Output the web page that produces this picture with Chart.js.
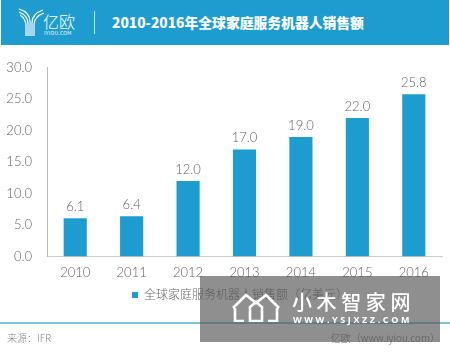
<!DOCTYPE html>
<html>
<head>
<meta charset="utf-8">
<script src="https://cdn.jsdelivr.net/npm/chart.js@4"></script>
<style>
  html, body { margin: 0; padding: 0; background: #fff; }
  body { width: 450px; height: 352px; position: relative; overflow: hidden; font-family: "Noto Sans CJK SC", sans-serif; }
  #wrap { position: absolute; left: 0; top: 45px; width: 450px; height: 266px; }
  .abs { position: absolute; white-space: nowrap; }
  #head { left: 1px; top: 0; width: 448px; height: 45px; background: #1e9ccf; }
  #title { left: 112px; top: 12px; font-size: 13.8px; line-height: 20px; font-weight: 900; color: #fff; }
  #rule { left: 94px; top: 11px; width: 1px; height: 23px; background: rgba(255,255,255,.7); }
  #brand { left: 43px; top: 12px; font-size: 16px; line-height: 18px; font-weight: 300; color: #fff; }
  #brand2 { left: 44px; top: 30px; font-size: 5px; line-height: 6px; color: #fff; letter-spacing: .3px; }
  #line { left: 0; top: 322px; width: 450px; height: 2px; background: #7cc5d9; }
  #src { left: 7px; top: 331px; font-size: 10px; line-height: 14px; font-weight: 300; color: #888; }
  #site { right: 10px; top: 331px; font-size: 10px; line-height: 14px; font-weight: 300; color: #666; }
  #mark { left: 200px; top: 276px; width: 240px; height: 66px; background: rgba(85,85,85,.66); }
  #mname { left: 292px; top: 289px; font-size: 20px; line-height: 26px; font-weight: 500; color: #fff; letter-spacing: 4.6px; }
  #murl { left: 293px; top: 314px; font-size: 9px; line-height: 12px; font-weight: 700; color: #fff; letter-spacing: 2.6px; font-family: "Open Sans", sans-serif; }
</style>
</head>
<body>
<div id="wrap"><canvas id="chart"></canvas></div>

<div class="abs" id="head"></div>
<svg class="abs" style="left:17px;top:7px" width="30" height="30" viewBox="0 0 30 30" fill="none" stroke="#fff" stroke-width="1.2">
  <path d="M2 2 C9 4 13 8 13 15 V29"/>
  <path d="M2 5 C7 7 11 10 11 17 V29"/>
  <path d="M3 8 C6 10 9 13 9 19 V29"/>
  <path d="M26 3 C20 5 15 9 15 16 V29"/>
  <path d="M27 6 C21 8 17 11 17 18 V29"/>
</svg>
<div class="abs" id="brand">亿欧</div>
<div class="abs" id="brand2">IYIOU.COM</div>
<div class="abs" id="rule"></div>
<div class="abs" id="title">2010-2016年全球家庭服务机器人销售额</div>

<div class="abs" id="line"></div>
<div class="abs" id="src">来源：IFR</div>
<div class="abs" id="site">亿欧（www.iyiou.com）</div>

<div class="abs" id="mark"></div>
<svg class="abs" style="left:232px;top:292px" width="48" height="30" viewBox="0 0 48 30" fill="none" stroke="#fff" stroke-width="2.6">
  <path d="M1 16 L14 3 L24 11 L34 3 L47 16"/>
  <path d="M3 16 V29 H12 M36 29 H45 V16"/>
  <path d="M18 29 V15 L24 10 L30 15 V29 Z"/>
</svg>
<div class="abs" id="mname">小木智家网</div>
<div class="abs" id="murl">WWW.YSJXZZ.COM</div>

<script>
const years = ["2010", "2011", "2012", "2013", "2014", "2015", "2016"];
const sales = [6.1, 6.4, 12.0, 17.0, 19.0, 22.0, 25.8];
const seriesName = "全球家庭服务机器人销售额（亿美元）";
const BLUE = "#1e9ccf";
const TEXT = "#5f5f5f";
const FONT = 'Lato, "Noto Sans CJK SC", sans-serif';

// no datalabels plugin here, so draw the values above the bars by hand
const barLabels = {
  id: "barLabels",
  // legend sits a little left of the plot centre in the original
  afterLayout(c) { c.legend.left -= 9; },
  afterDatasetsDraw(c) {
    const ctx = c.ctx;
    ctx.save();
    ctx.font = "300 13px " + FONT;
    ctx.fillStyle = TEXT;
    ctx.textAlign = "center";
    ctx.textBaseline = "bottom";
    c.getDatasetMeta(0).data.forEach((bar, i) => {
      ctx.fillText(sales[i].toFixed(1), bar.x, bar.y - 5);
    });
    ctx.restore();
  },
};

new Chart(document.getElementById("chart"), {
  type: "bar",
  data: {
    labels: years,
    datasets: [{ label: seriesName, data: sales, backgroundColor: BLUE, categoryPercentage: 1, barPercentage: 0.41 }],
  },
  options: {
    responsive: true,
    maintainAspectRatio: false,
    animation: false,
    layout: { padding: { left: 7, right: 8, top: 11, bottom: 0 } },
    plugins: {
      tooltip: { enabled: false },
      legend: {
        position: "bottom",
        fullSize: false,
        labels: { color: "#666", boxWidth: 6, boxHeight: 6, padding: 9.5, font: { family: FONT, size: 12, weight: 300 } },
      },
    },
    scales: {
      x: {
        afterFit: (s) => { s.height = 23; },
        grid: { display: false, drawTicks: false },
        border: { color: "#ccc" },
        ticks: { color: TEXT, padding: 9, font: { family: FONT, size: 13, weight: 300 } },
      },
      y: {
        min: 0,
        max: 30,
        afterFit: (s) => { s.width = 40; },
        grid: { display: false, drawTicks: false },
        border: { color: "#bbb" },
        ticks: { stepSize: 5, color: TEXT, padding: 15, font: { family: FONT, size: 13, weight: 300 }, callback: (v) => v.toFixed(1) },
      },
    },
  },
  plugins: [barLabels],
});
</script>
</body>
</html>
